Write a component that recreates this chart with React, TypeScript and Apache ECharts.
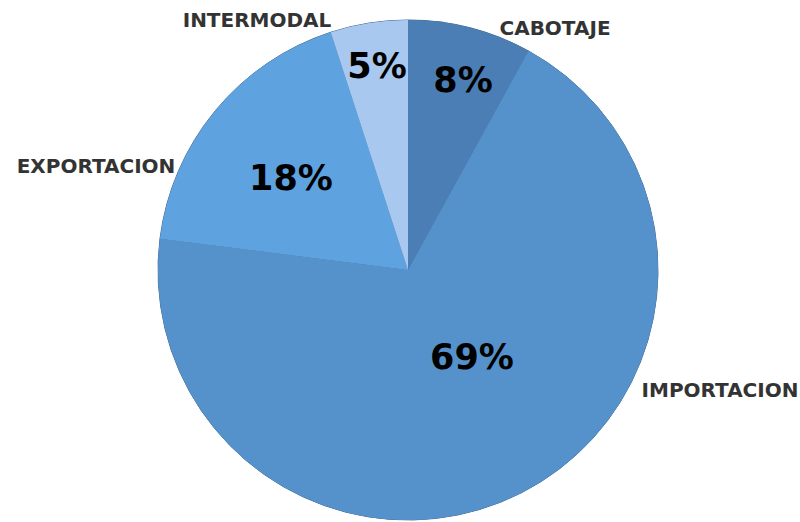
import React, { useEffect, useRef } from "react";
import * as echarts from "echarts";

const categories = ["CABOTAJE", "IMPORTACION", "EXPORTACION", "INTERMODAL"];
const values = [8, 69, 18, 5];
const colors = ["#4a7eb4", "#5592cb", "#5ea3e0", "#a8c8f0"];

// label anchor positions (px) for percentages and names
const pctPos = [
  [463, 80],
  [472, 357],
  [291, 178],
  [377, 66],
];
const namePos = [
  [555, 28],
  [720, 390],
  [96, 166],
  [257, 20],
];

export default function App() {
  const ref = useRef<HTMLDivElement>(null);
  useEffect(() => {
    if (!ref.current) return;
    const chart = echarts.init(ref.current, null, { renderer: "svg" });
    const data = categories.map((c, i) => ({
      name: c,
      value: values[i],
      itemStyle: { color: colors[i] },
    }));
    const common = {
      type: "pie",
      center: [408, 270],
      radius: [0, 250],
      startAngle: 90,
      clockwise: true,
      data,
      labelLine: { show: false },
      emphasis: { disabled: true },
    };
    chart.setOption({
      animation: false,
      backgroundColor: "#ffffff",
      series: [
        {
          ...common,
          itemStyle: { borderColor: "#46698f", borderWidth: 1 },
          label: {
            show: true,
            position: "inside",
            formatter: (p: any) => p.value + "%",
            fontFamily: "DejaVu Sans",
            fontWeight: "bold",
            fontSize: 35,
            color: "#000000",
          },
          labelLayout: (p: any) => ({
            x: pctPos[p.dataIndex][0],
            y: pctPos[p.dataIndex][1],
            align: "center",
            verticalAlign: "middle",
          }),
        },
        {
          ...common,
          silent: true,
          itemStyle: { color: "transparent", borderWidth: 0 },
          label: {
            show: true,
            position: "outside",
            formatter: "{b}",
            fontFamily: "DejaVu Sans",
            fontWeight: "bold",
            fontSize: 20,
            color: "#333333",
          },
          labelLayout: (p: any) => ({
            x: namePos[p.dataIndex][0],
            y: namePos[p.dataIndex][1],
            align: "center",
            verticalAlign: "middle",
          }),
        },
      ],
    });
    return () => chart.dispose();
  }, []);
  return (
    <div
      ref={ref}
      style={{ position: "absolute", left: 0, top: 0, width: 800, height: 522 }}
    />
  );
}
